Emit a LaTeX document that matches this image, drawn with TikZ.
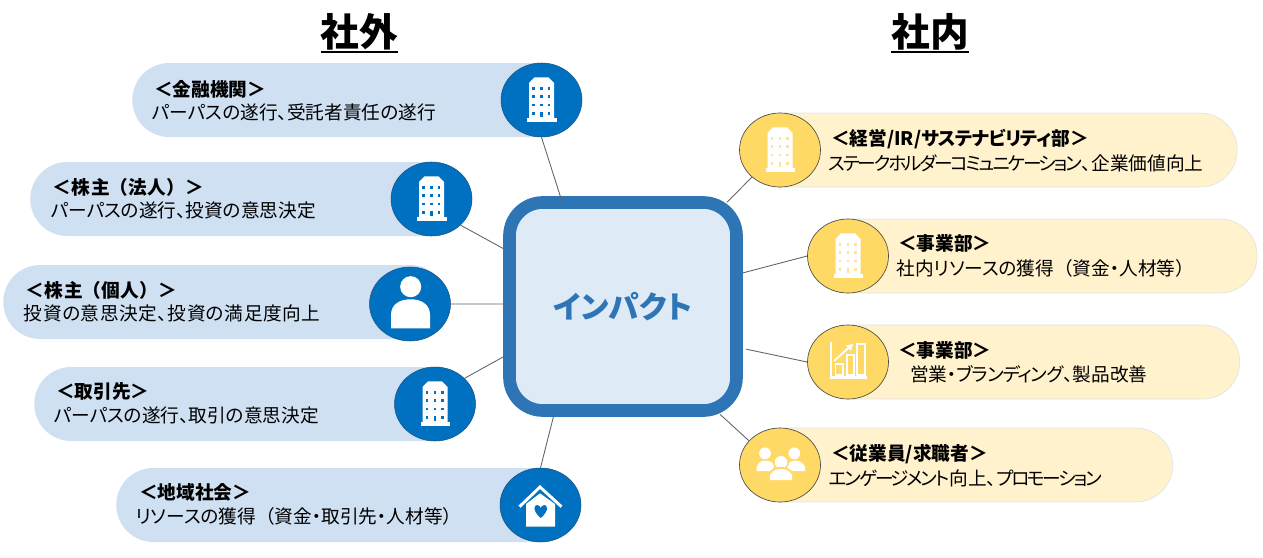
\documentclass[tikz,border=0pt]{standalone}
\usepackage{fontspec}
\setmainfont{Noto Sans CJK JP}[RawFeature={+palt}]
\newfontfamily\fullcjk{Noto Sans CJK JP}
\newcommand{\fw}[1]{{\fullcjk #1}}
\newcommand{\fit}[2]{{\addfontfeature{LetterSpace=#1}#2}}
\usetikzlibrary{shapes.geometric}
\definecolor{ImpBlue}{HTML}{2E75B6}
\definecolor{ImpPale}{HTML}{DEEAF6}
\definecolor{OutPill}{HTML}{CFE0F2}
\definecolor{OutDisc}{HTML}{0070C0}
\definecolor{InPill}{HTML}{FFF2CC}
\definecolor{InDisc}{HTML}{FFD966}
\definecolor{LinkGray}{HTML}{5F6368}
\tikzset{
  outpill/.style={
    fill=OutPill,
    rounded corners=27.7pt,
    minimum height=55.5pt,
    inner sep=0pt
  },
  inpill/.style={
    outpill,
    fill=InPill,
    draw=OutPill!70!InPill,
    line width=.5pt
  },
  outdisc/.style={
    ellipse,
    fill=OutDisc,
    draw=ImpBlue!70!black,
    line width=.4pt,
    minimum width=60.75pt,
    minimum height=55.5pt,
    inner sep=0pt
  },
  indisc/.style={
    outdisc,
    fill=InDisc,
    draw=black!70,
    line width=.5pt
  },
  pilltitle/.style={anchor=west,inner sep=0pt,font=\fontsize{14pt}{16pt}\bfseries},
  pillbody/.style={anchor=west,inner sep=0pt,font=\fontsize{14pt}{16pt}\selectfont},
  sidehead/.style={inner sep=0pt,font=\fontsize{29pt}{32pt}\bfseries},
  headrule/.style={line width=1.8pt},
  link/.style={draw=LinkGray,line width=.65pt},
  pics/towericon/.style={code={
    \fill[white] (-12.5,18) -- (-12.5,-17) -- (-7,-22.7) -- (7,-22.7) -- (12.5,-17) -- (12.5,18) -- cycle;
    \fill[white] (-14.5,18) rectangle (15,21.7);
    \foreach \wx in {-8,0,7.5}
      \foreach \wy in {-11.7,-3.3,5}
        \fill[#1] (\wx-1.4,\wy-1.4) rectangle (\wx+1.4,\wy+1.4);
    \fill[#1] (-9.4,11.9) rectangle (-6.6,14.7);
    \fill[#1] (6.1,11.9) rectangle (8.9,14.7);
    \fill[#1] (-1.4,11.7) rectangle (1.4,16.7);
  }}
}
\begin{document}
\begin{tikzpicture}[x=.75pt,y=-.75pt]
    \useasboundingbox (0,0) rectangle (1263,557);
    \node[sidehead] (outhead) at (359.5,32) {社外};
    \node[sidehead] (inhead) at (930,32) {社内};
    \draw[headrule] ([yshift=-1pt]outhead.south west) -- ([yshift=-1pt]outhead.south east);
    \draw[headrule] ([yshift=-1pt]inhead.south west) -- ([yshift=-1pt]inhead.south east);

    \node[draw=ImpBlue,fill=ImpPale,line width=9.5pt,rounded corners=25pt,
      minimum width=170.25pt,minimum height=156pt,inner sep=0pt,
      text=ImpBlue,font=\fontsize{23pt}{26pt}\bfseries] (hub) at (623,306.5) {インパクト};

    \node[outpill,anchor=west,minimum width=334.5pt] (bankpill) at (132,100) {};
    \node[outpill,anchor=west,minimum width=328.5pt] (corppill) at (30,199) {};
    \node[outpill,anchor=west,minimum width=333pt] (retailpill) at (3,302) {};
    \node[outpill,anchor=west,minimum width=328.5pt] (tradepill) at (34,404) {};
    \node[outpill,anchor=west,minimum width=345.75pt] (localpill) at (116,505) {};
    \node[inpill,anchor=east,minimum width=370.75pt] (mgmtpill) at (1237.5,150) {};
    \node[inpill,anchor=east,minimum width=334.75pt] (bizpill) at (1257.5,256) {};
    \node[inpill,anchor=east,minimum width=321.75pt] (salespill) at (1240,362) {};
    \node[inpill,anchor=east,minimum width=322.5pt] (staffpill) at (1173,465) {};

    \node[outdisc] (bank) at (541.5,100) {};
    \node[outdisc] (corp) at (431.5,199) {};
    \node[outdisc] (retail) at (410,304) {};
    \node[outdisc] (trade) at (435,404) {};
    \node[outdisc] (local) at (540.5,505) {};
    \node[indisc] (mgmt) at (780,150) {};
    \node[indisc] (biz) at (848,256) {};
    \node[indisc] (sales) at (848,362) {};
    \node[indisc] (staff) at (780,465) {};

    \draw[link] (bank.south) -- ([xshift=-45.75pt,yshift=-4pt]hub.north);
    \draw[link] (corp.-42.5) -- ([yshift=43.5pt]hub.west);
    \draw[link] (retail.east) -- ([xshift=4.5pt,yshift=1.9pt]hub.west);
    \draw[link] (trade.41.4) -- ([yshift=-37.8pt]hub.west);
    \draw[link] (local.north) -- ([xshift=-52.2pt]hub.south);
    \draw[link] (mgmt.224.3) -- ([xshift=78pt,yshift=78.2pt]hub.center);
    \draw[link] (biz.west) -- ([yshift=25.2pt]hub.east);
    \draw[link] (sales.west) -- ([xshift=2.5pt,yshift=-32pt]hub.east);
    \draw[link] (staff.142) -- ([xshift=72.9pt,yshift=-81pt]hub.center);

    \node[pilltitle] (banktitle) at (154,89) {＜金融機関＞};
    \node[pillbody] (banktext) at (152,112.7) {パーパスの遂行、受託者責任の遂行};
    \node[pilltitle] (corptitle) at (52,187) {\fit{4}{＜株主}\fw{（}\fit{4}{法人}\fw{）}＞};
    \node[pillbody] (corptext) at (50.6,210.7) {パーパスの遂行、投資の意思決定};
    \node[pilltitle] (retailtitle) at (25,290) {\fit{4}{＜株主}\fw{（}\fit{4}{個人}\fw{）}＞};
    \node[pillbody] (retailtext) at (23.7,313) {\fit{3}{投資の意思決定、投資の満足度向上}};
    \node[pilltitle] (tradetitle) at (56,391.7) {＜取引先＞};
    \node[pillbody] (tradetext) at (53.8,415.7) {パーパスの遂行、取引の意思決定};
    \node[pilltitle] (localtitle) at (139,492.3) {＜地域社会＞};
    \node[pillbody] (localtext) at (135.6,516.7) {リソースの獲得\fw{（}資金・取引先・人材等\fw{）}};
    \node[pilltitle] (mgmttitle) at (831,139) {＜経営/IR/\fit{-3}{サステナビリティ}部＞};
    \node[pillbody] (mgmttext) at (828.5,163.3) {\fit{-12}{ステークホルダーコミュニケーション}、企業価値向上};
    \node[pilltitle] (biztitle) at (898,243.3) {＜事業部＞};
    \node[pillbody] (biztext) at (896.4,268.3) {社内リソースの獲得\fw{（}資金・人材等\fw{）}};
    \node[pilltitle] (salestitle) at (898,350) {＜事業部＞};
    \node[pillbody] (salestext) at (910,374.3) {営業・\fit{-6}{ブランディング}、製品改善};
    \node[pilltitle] (stafftitle) at (831,454) {＜従業員/求職者＞};
    \node[pillbody] (stafftext) at (829,478.3) {\fit{-12}{エンゲージメント}向上、\fit{-12}{プロモーション}};

    \pic at (bank.center) {towericon=OutDisc};
    \pic at (corp.center) {towericon=OutDisc};
    \pic at (trade.center) {towericon=OutDisc};
    \pic at (mgmt.center) {towericon=InDisc!70!white};
    \pic at (biz.center) {towericon=InDisc!70!white};

    \begin{scope}[shift={(retail.center)}]
      \fill[white] (.7,-17.3) circle[radius=7.9pt];
      \fill[white] (-19,24.3) -- (-19,11) .. controls (-19,0) and (-10,-4.7) .. (.5,-4.7)
        .. controls (11,-4.7) and (20,0) .. (20,11) -- (20,24.3) -- cycle;
    \end{scope}

    \begin{scope}[shift={(local.center)}]
      \draw[white,line width=2.2pt] (-21,1.7) -- (-.5,-18) -- (21,1.7);
      \fill[white] (-14.5,21.7) -- (-14.5,-1) -- (-.5,-11.7) -- (14.5,-1) -- (14.5,21.7) -- cycle;
      \fill[OutDisc] (.2,13) .. controls (-9,5) and (-6,0) .. (-3.5,0)
        .. controls (-1.5,0) and (-.3,1.5) .. (.2,3)
        .. controls (.7,1.5) and (2,0) .. (4,0)
        .. controls (6.5,0) and (9.5,5) .. (.2,13) -- cycle;
    \end{scope}

    \begin{scope}[shift={(sales.center)},white]
      \draw[line width=1.9pt] (-17,-20) -- (-17,15.6) -- (19,15.6);
      \draw[line width=1.4pt] (-12.5,2) rectangle (-5.3,13);
      \draw[line width=1.4pt] (-1.3,-7) rectangle (6.3,13);
      \draw[line width=1.4pt] (9.3,-18) rectangle (17,13);
      \draw[line width=1.4pt] (-14,-1) -- (3.7,-17);
      \fill (5,-18) -- (-2,-16.5) -- (3,-11) -- cycle;
    \end{scope}

    \begin{scope}[shift={(staff.center)},white]
      \fill (-15,-11.7) circle[radius=4.4pt];
      \fill (14.3,-11.7) circle[radius=4.4pt];
      \fill (-23.3,6) -- (-23.3,2) .. controls (-22,-3) and (-18,-4.5) .. (-15,-4.5)
        .. controls (-11,-4.5) and (-8,-3) .. (-5,.5) -- (-9,6) -- cycle;
      \fill (25,6) -- (25,2) .. controls (23,-3) and (19,-4.5) .. (15,-4.5)
        .. controls (12,-4.5) and (9,-3) .. (6,.5) -- (9,6) -- cycle;
      \fill[InDisc] (1,-2.7) circle[radius=6pt];
      \fill (1,-2.7) circle[radius=4.7pt];
      \fill[InDisc] (-12,16) -- (-12,9) .. controls (-9,3) and (-3,2) .. (1,2)
        .. controls (5,2) and (11,3) .. (14,9) -- (14,16) -- cycle;
      \fill (-10,15) -- (-10,10) .. controls (-7,5) and (-3,4) .. (1,4)
        .. controls (5,4) and (9,5) .. (12,10) -- (12,15) -- cycle;
    \end{scope}
  \end{tikzpicture}
\end{document}
